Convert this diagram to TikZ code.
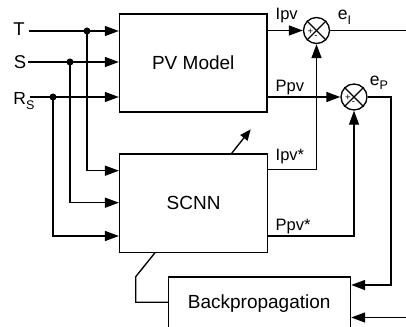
\documentclass[tikz,border=0pt]{standalone}
\usepackage{fontspec}
\setmainfont{Liberation Sans}
\usetikzlibrary{arrows.meta}
\newcommand{\lowsub}[1]{\raisebox{-5pt}{\fontsize{12.5}{13}\selectfont #1}}
\begin{document}
\begin{tikzpicture}[x=1pt,y=-1pt, line width=1.35pt,
  blk/.style={draw, rectangle, inner sep=0pt, font=\fontsize{19}{22}\selectfont},
  sumj/.style={draw, circle, minimum size=26pt, inner sep=0pt},
  arr/.style={-{Triangle[length=14pt,width=10pt]}},
  sarr/.style={-{Triangle[length=11pt,width=9pt]}},
  lbl/.style={inner sep=0pt, anchor=base west, font=\fontsize{18.5}{22}\selectfont},
  slbl/.style={inner sep=0pt, anchor=base west, font=\fontsize{16.5}{18}\selectfont},
  elbl/.style={inner sep=0pt, anchor=base west, font=\fontsize{17.5}{18}\selectfont},
  tiny/.style={inner sep=0pt, font=\fontsize{9.5}{10}\selectfont},
  dot/.style={circle, fill, inner sep=0pt, minimum size=7pt}]
\useasboundingbox (0,0) rectangle (406,326);

% blocks
\node[blk, minimum width=147.5pt, minimum height=98pt] (pv) at (193.25,63) {PV Model};
\node[blk, minimum width=148pt, minimum height=98.5pt] (scnn) at (193.6,203.3) {SCNN};
\node[blk, minimum width=182pt, minimum height=60pt] (bp) at (259.5,307) {};
\node[inner sep=0pt, anchor=base, font=\fontsize{19}{22}\selectfont] (bptext) at (259.2,308.3) {Backpropagation};

% input labels
\node[lbl] (tl) at (12.7,36) {T};
\node[lbl] (sl) at (13.3,68.3) {S};
\node[lbl, font=\fontsize{17.5}{20}\selectfont] (rl) at (12.8,104) {R\lowsub{S}};

\coordinate (ts) at (29,31);
\coordinate (ss) at (28,62);
\coordinate (rs) at (29.5,97);
\node[dot] (td) at (87,31) {};
\node[dot] (sd) at (70,62) {};
\node[dot] (rd) at (53,97) {};

\draw[arr] (ts) -- (ts -| pv.west);
\draw[arr] (ss) -- (ss -| pv.west);
\draw[arr] (rs) -- (rs -| pv.west);

\coordinate (tc) at (87,170.7);
\coordinate (sc) at (70,202.7);
\coordinate (rc) at (53,236);
\draw[arr] (td.center) -- (tc) -- (tc -| scnn.west);
\draw[arr] (sd.center) -- (sc) -- (sc -| scnn.west);
\draw[arr] (rd.center) -- (rc) -- (rc -| scnn.west);

% summing junctions
\node[sumj] (s1) at (316.5,30.5) {};
\node[sumj] (s2) at (354,97) {};
\foreach \s in {s1,s2}{
  \draw[line width=1.1pt] (\s.north west) -- (\s.south east);
  \draw[line width=1.1pt] (\s.north east) -- (\s.south west);
  \node[tiny] at ([shift={(-6,1)}]\s.center) {+};
  \node[tiny] at ([shift={(-0.5,6.5)}]\s.center) {-};
}

% outputs of PV model
\coordinate (ipvo) at (267,30.5);
\coordinate (ppvo) at (267,97);
\draw[arr] (ipvo) -- (s1.west);
\draw[arr] (ppvo) -- (s2.west);
\node[slbl] (ipvl) at (275,19.3) {Ipv};
\node[slbl] (ppvl) at (275,91.7) {Ppv};

% errors
\coordinate (eiend) at (406,30.5);
\draw (s1.east) -- (eiend);
\node[elbl] (eil) at (337.3,19.3) {e\lowsub{I}};
\coordinate (epc) at (391,97);
\coordinate (epd) at (391,285);
\draw[arr] (s2.east) -- (epc) -- (epd) -- (epd -| bp.east);
\node[elbl] (epl) at (369.3,85) {e\lowsub{P}};

% SCNN outputs
\coordinate (ipvs) at (267.7,169.5);
\coordinate (ppvs) at (267.7,236);
\draw[arr] (ipvs) -- (ipvs -| s1.south) -- (s1.south);
\draw[arr] (ppvs) -- (ppvs -| s2.south) -- (s2.south);
\node[slbl] (ipvsl) at (275,160) {Ipv*};
\node[slbl] (ppvsl) at (275,230.7) {Ppv*};

% bottom input to backprop
\coordinate (bin) at (406,317.5);
\draw[arr] (bin) -- (bin -| bp.east);

% SCNN to backprop link
\coordinate (k1) at (155,252.7);
\coordinate (k2) at (135.7,276.7);
\coordinate (k3) at (135.7,302.3);
\draw (k1) -- (k2) -- (k3) -- (k3 -| bp.west);

% weight adjustment arrow
\coordinate (w1) at (231.7,153.3);
\coordinate (w2) at (250.7,129.3);
\draw[sarr] (w1) -- (w2);
\end{tikzpicture}
\end{document}
